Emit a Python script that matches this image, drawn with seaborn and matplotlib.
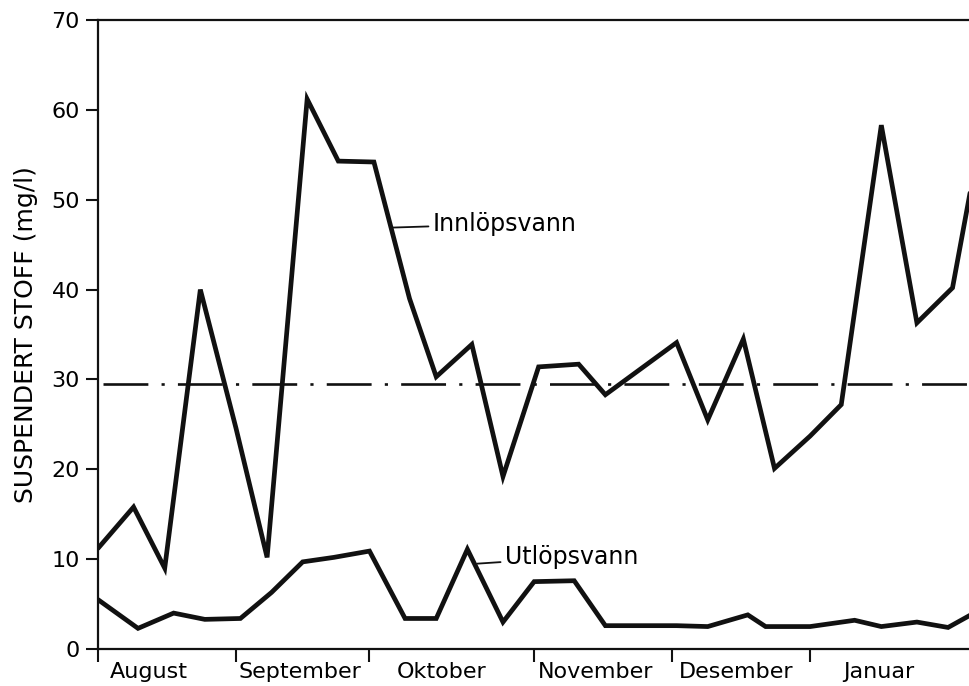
import pandas as pd
import seaborn as sns
import matplotlib.pyplot as plt

# --- Data ---
# x = days counted from 1 August (as drawn on the original axis)
innlop_dag = [0, 8, 15, 23, 31, 38, 47, 54, 62, 70, 76, 84, 91, 99, 108, 114,
              122, 130, 137, 145, 152, 160, 167, 176, 184, 192, 199]
innlop_mgl = [11.2, 15.8, 9.0, 40.0, 24.6, 10.2, 61.2, 54.3, 54.2, 39.0, 30.3,
              33.9, 19.2, 31.4, 31.7, 28.3, 31.2, 34.1, 25.5, 34.5, 20.1, 23.7,
              27.2, 58.3, 36.3, 40.2, 59.0]

utlop_dag = [0, 9, 17, 24, 32, 39, 46, 53, 61, 69, 76, 83, 91, 98, 107, 114,
             122, 130, 137, 146, 150, 160, 170, 176, 184, 191, 199]
utlop_mgl = [5.5, 2.3, 4.0, 3.3, 3.4, 6.3, 9.7, 10.2, 10.9, 3.4, 3.4, 11.1,
             3.0, 7.5, 7.6, 2.6, 2.6, 2.6, 2.5, 3.8, 2.5, 2.5, 3.2, 2.5, 3.0,
             2.4, 4.6]

middel_innlop = 29.5

# month boundaries and label centres as drawn
maaned_grenser = [0, 31, 61, 98, 129, 160]
maaned_midt = [11.5, 45.4, 77.1, 111.9, 143.4, 175.5]
maaneder = ["August", "September", "Oktober", "November", "Desember", "Januar"]

df = pd.concat([
    pd.DataFrame({"dag": innlop_dag, "mgl": innlop_mgl, "serie": "Innlöpsvann"}),
    pd.DataFrame({"dag": utlop_dag, "mgl": utlop_mgl, "serie": "Utlöpsvann"}),
])

# --- Plot ---
sns.set_theme(style="white")
plt.rcParams['font.family'] = ['DejaVu Sans']
plt.rcParams['text.color'] = 'black'
plt.rcParams['axes.labelcolor'] = 'black'
plt.rcParams['xtick.color'] = 'black'
plt.rcParams['ytick.color'] = 'black'

fig = plt.figure(figsize=(9.69, 6.86), dpi=100)
ax = fig.add_axes([0.1011, 0.0539, 0.8989, 0.9169])

sns.lineplot(data=df, x="dag", y="mgl", hue="serie", units="serie",
             estimator=None, sort=False, palette=["#111111", "#111111"],
             linewidth=3.4, legend=False, ax=ax)
for line in ax.lines:
    line.set_solid_joinstyle("miter")

# mean of inflow (dash-dot)
ax.axhline(middel_innlop, xmin=0.006, color="#111111", linewidth=1.9,
           linestyle=(0, (17, 5, 1.2, 5)))

ax.set_xlim(0, 195.7)
ax.set_ylim(0, 70)
ax.set_yticks(range(0, 71, 10))

ax.set_xticks(maaned_grenser)
ax.set_xticklabels([])
ax.set_xticks(maaned_midt, minor=True)
ax.set_xticklabels(maaneder, minor=True, fontsize=16)
ax.tick_params(axis="x", which="major", direction="out", length=9, width=1.5,
               color="#111111", bottom=True)
ax.tick_params(axis="x", which="minor", length=0, pad=9, bottom=True)
ax.tick_params(axis="y", direction="out", length=9, width=1.5, pad=4,
               labelsize=16, color="#111111", left=True)

for side in ["left", "bottom", "top"]:
    ax.spines[side].set_visible(True)
    ax.spines[side].set_color("#111111")
    ax.spines[side].set_linewidth(1.6)
ax.spines["right"].set_visible(False)

ax.set_xlabel("")
ax.set_ylabel("SUSPENDERT STOFF (mg/l)", fontsize=18, labelpad=10)

# line labels with leader lines
ax.annotate("Innlöpsvann", xy=(66.0, 46.9), xytext=(75.3, 47.3),
            fontsize=17, ha="left", va="center",
            arrowprops=dict(arrowstyle="-", color="#111111", lw=1.3,
                            shrinkA=1, shrinkB=0))
ax.annotate("Utlöpsvann", xy=(85.2, 9.5), xytext=(91.5, 10.2),
            fontsize=17, ha="left", va="center",
            arrowprops=dict(arrowstyle="-", color="#111111", lw=1.3,
                            shrinkA=1, shrinkB=0))

fig.savefig("out.png", dpi=100)
